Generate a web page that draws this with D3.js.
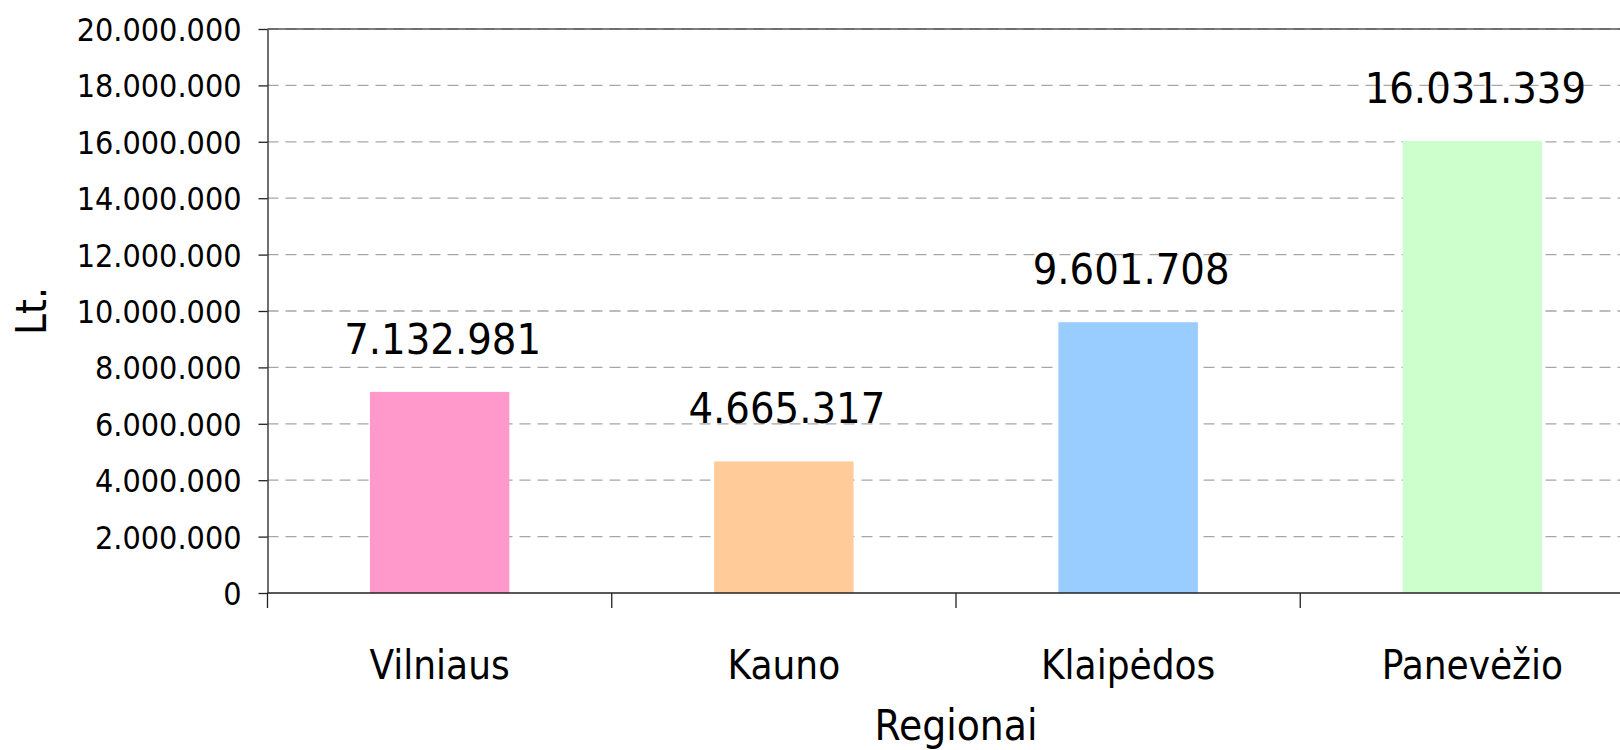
<!DOCTYPE html>
<html>
<head>
<meta charset="utf-8">
<script src="https://cdn.jsdelivr.net/npm/d3@7"></script>
<style>
  body { margin: 0; background: #fff; }
  text { font-family: "DejaVu Sans Condensed", "DejaVu Sans", sans-serif; fill: #000; }
</style>
</head>
<body>
<script>
var w = 1620;
var h = 750;

var regions = ["Vilniaus", "Kauno", "Klaipėdos", "Panevėžio"];
var amounts = [7132981, 4665317, 9601708, 16031339];
var barColors = ["#ff99cc", "#ffcc99", "#99ccff", "#ccffcc"];
var yTicks = [0, 2000000, 4000000, 6000000, 8000000, 10000000, 12000000, 14000000, 16000000, 18000000, 20000000];

var plotLeft = 267.5, plotTop = 29, plotBottom = 593;
var plotW = 1377;

var lt = d3.formatLocale({ decimal: ",", thousands: ".", grouping: [3], currency: ["", ""] });
var fmt = lt.format(",d");

var xScale = d3.scaleBand()
    .domain(regions)
    .range([plotLeft, plotLeft + plotW])
    .paddingInner(0.595)
    .paddingOuter(0.2975);

var yScale = d3.scaleLinear()
    .domain([0, 20000000])
    .range([plotBottom, plotTop]);

var svg = d3.select("body")
    .append("svg")
    .attr("width", w)
    .attr("height", h);

// gridlines
svg.selectAll("line.grid")
    .data(yTicks.filter(function (d) { return d > 0; }))
    .enter()
    .append("line")
    .attr("class", "grid")
    .attr("x1", plotLeft)
    .attr("x2", plotLeft + plotW)
    .attr("y1", function (d) { return yScale(d); })
    .attr("y2", function (d) { return yScale(d); })
    .attr("stroke", "#a6a6a6")
    .attr("stroke-width", 1.3)
    .attr("stroke-dasharray", "11,7");

// plot border top
svg.append("line")
    .attr("x1", plotLeft).attr("x2", plotLeft + plotW)
    .attr("y1", plotTop).attr("y2", plotTop)
    .attr("stroke", "#555").attr("stroke-width", 1.3);

// bars
svg.selectAll("rect")
    .data(amounts)
    .enter()
    .append("rect")
    .attr("x", function (d, i) { return xScale(regions[i]); })
    .attr("y", function (d) { return yScale(d); })
    .attr("width", xScale.bandwidth())
    .attr("height", function (d) { return plotBottom - yScale(d); })
    .attr("fill", function (d, i) { return barColors[i]; });

// y axis
var yAxis = d3.axisLeft(yScale)
    .tickValues(yTicks)
    .tickFormat(fmt)
    .tickSize(9)
    .tickSizeOuter(0)
    .tickPadding(17);

var gy = svg.append("g")
    .attr("transform", "translate(" + plotLeft + ",0)")
    .call(yAxis);
gy.select(".domain").attr("stroke", "#222").attr("stroke-width", 1.3);
gy.selectAll(".tick line").attr("stroke", "#222").attr("stroke-width", 1.3);
gy.selectAll(".tick text")
    .style("font-size", "32px")
    .attr("dy", "0.36em");

// left axis extends below zero
svg.append("line")
    .attr("x1", plotLeft).attr("x2", plotLeft)
    .attr("y1", plotBottom).attr("y2", plotBottom + 15)
    .attr("stroke", "#222").attr("stroke-width", 1.3);

// x axis
svg.append("line")
    .attr("x1", plotLeft).attr("x2", plotLeft + plotW)
    .attr("y1", plotBottom).attr("y2", plotBottom)
    .attr("stroke", "#222").attr("stroke-width", 1.5);

svg.selectAll("line.xtick")
    .data(regions.slice(1))
    .enter()
    .append("line")
    .attr("class", "xtick")
    .attr("x1", function (d) { return xScale(d) - xScale.step() * xScale.paddingInner() / 2; })
    .attr("x2", function (d) { return xScale(d) - xScale.step() * xScale.paddingInner() / 2; })
    .attr("y1", plotBottom)
    .attr("y2", plotBottom + 15)
    .attr("stroke", "#222").attr("stroke-width", 1.3);

svg.selectAll("text.cat")
    .data(regions)
    .enter()
    .append("text")
    .attr("class", "cat")
    .attr("x", function (d) { return xScale(d) + xScale.bandwidth() / 2; })
    .attr("y", 679)
    .attr("text-anchor", "middle")
    .style("font-size", "40px")
    .text(function (d) { return d; });

// value labels
svg.selectAll("text.val")
    .data(amounts)
    .enter()
    .append("text")
    .attr("class", "val")
    .attr("x", function (d, i) { return xScale(regions[i]) + xScale.bandwidth() / 2 + 3; })
    .attr("y", function (d) { return yScale(d) - 38; })
    .attr("text-anchor", "middle")
    .style("font-size", "43px")
    .text(function (d) { return fmt(d); });

// axis titles
svg.append("text")
    .attr("x", plotLeft + plotW / 2)
    .attr("y", 740)
    .attr("text-anchor", "middle")
    .style("font-size", "42px")
    .text("Regionai");

svg.append("text")
    .attr("transform", "translate(46," + ((plotTop + plotBottom) / 2) + ") rotate(-90)")
    .attr("text-anchor", "middle")
    .style("font-size", "42px")
    .text("Lt.");
</script>
</body>
</html>
